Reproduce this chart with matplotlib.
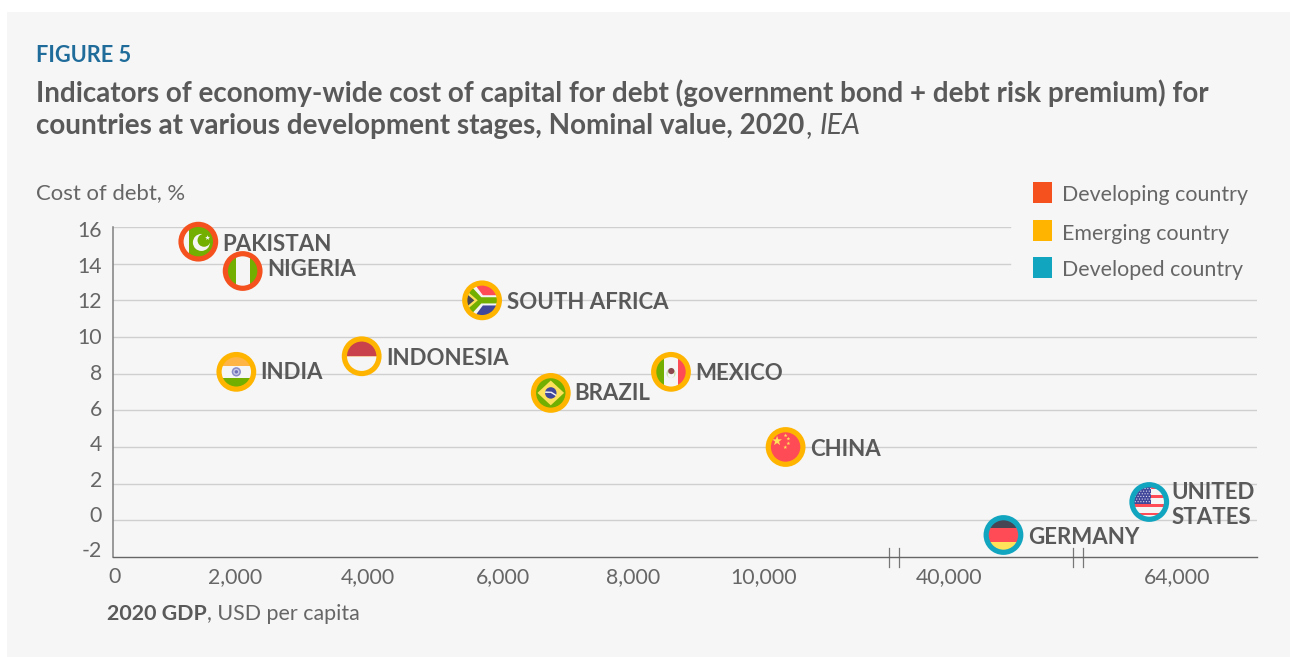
import matplotlib
matplotlib.use("Agg")
import matplotlib.pyplot as plt
import numpy as np
from matplotlib.patches import Circle, Rectangle, Polygon
from matplotlib.path import Path
from matplotlib.scale import FuncScale
from matplotlib.transforms import Affine2D, ScaledTranslation

# Country readings: GDP per capita (USD) and cost of debt (%)
countries = ["PAKISTAN", "NIGERIA", "SOUTH AFRICA", "INDIA", "INDONESIA",
             "BRAZIL", "MEXICO", "CHINA", "GERMANY", "UNITED\nSTATES"]
gdp_per_capita = [1390, 2115, 5690, 2020, 3905, 6735, 8580, 10335, 45700, 61100]
cost_of_debt = [15.2, 13.6, 12.0, 8.1, 8.95, 6.95, 8.1, 4.0, -0.8, 1.0]
stages = ["Developing country", "Developing country", "Emerging country",
          "Emerging country", "Emerging country", "Emerging country",
          "Emerging country", "Emerging country", "Developed country",
          "Developed country"]

stage_names = ["Developing country", "Emerging country", "Developed country"]
stage_colors = ["#F4511E", "#FFB400", "#12A5C0"]

y_ticks = [16, 14, 12, 10, 8, 6, 4, 2, 0, -2]
y_tick_labels = ["16", "14", "12", "10", "8", "6", "4", "2", "0", "-2"]
x_ticks = [0, 2000, 4000, 6000, 8000, 10000, 40000, 64000]
x_tick_labels = ["0", "2,000", "4,000", "6,000", "8,000", "10,000", "40,000", "64,000"]

# Label placement next to each marker, in pixels
label_offsets = {
    "PAKISTAN": (24, -3), "NIGERIA": (25, 2), "SOUTH AFRICA": (25, -2),
    "INDIA": (24, -1), "INDONESIA": (25, -2), "BRAZIL": (23, -1),
    "MEXICO": (24, -2), "CHINA": (25, -2), "GERMANY": (25, -3),
    "UNITED\nSTATES": (22, -3),
}
# The y labels sit on a slightly tighter spacing than the gridlines (pixels, + is up)
y_label_shift = {16: -2, 14: -1.5, 12: 0, 10: 0.5, 8: 1.3, 6: 2.7, 4: 3.7, 2: 4.6, 0: 6, -2: 8}

W, H = 1290, 657
TEXT = "#595959"
SOFT = "#666666"
FONT = ["Lato", "DejaVu Sans"]
plt.rcParams["font.family"] = FONT

fig = plt.figure(figsize=(W / 100, H / 100), dpi=100, facecolor="white")


def fx(px):
    return px / W


def fy(py):
    return 1 - py / H


fig.add_artist(Rectangle((fx(7), 0), 1 - fx(7), fy(12), transform=fig.transFigure,
                         facecolor="#F6F6F6", edgecolor="none", zorder=-5))

# Axes frame
left, right, top, bottom = 113, 1257, 227, 557
ax = fig.add_axes([fx(left), fy(bottom), fx(right - left), (bottom - top) / H])
ax.patch.set_visible(False)

# Broken horizontal axis: linear runs joined at the break marks
scale_values = np.array([-30, 0, 2000, 4000, 6000, 8000, 10000, 12000, 40000, 64000, 72500], float)
scale_pixels = np.array([113, 114.7, 235, 368, 503, 633, 764, 893, 949.5, 1176.7, 1257], float)


def to_axis(v):
    return np.interp(v, scale_values, scale_pixels)


def from_axis(p):
    return np.interp(p, scale_pixels, scale_values)


ax.set_xscale(FuncScale(ax, (to_axis, from_axis)))
ax.set_xlim(-30, 72500)
ax.set_ylim(-2, 16)

ax.set_xticks(x_ticks, x_tick_labels, fontsize=15.3, color=SOFT)
ax.set_yticks(y_ticks, y_tick_labels, fontsize=15.3, color=SOFT)
ax.minorticks_off()
ax.tick_params(axis="both", length=0)
ax.tick_params(axis="x", pad=7)
ax.tick_params(axis="y", pad=8)

for value, label in zip(y_ticks, ax.get_yticklabels()):
    label.set_transform(label.get_transform() + Affine2D().translate(0, y_label_shift[value]))

for side in ("top", "right"):
    ax.spines[side].set_visible(False)
ax.spines["left"].set_color("#808080")
ax.spines["bottom"].set_color("#666666")
ax.spines["left"].set_linewidth(1.1)
ax.spines["bottom"].set_linewidth(1.0)

# Gridlines; the top two stop short of the legend
for value in y_ticks:
    if value == -2:
        continue
    end = (1010 - left) / (right - left) if value >= 14 else 1
    ax.axhline(value, xmin=0, xmax=end, color="#CFCFCF", lw=1.0, zorder=1)

# Axis break marks
for px in (888.7, 898.7, 1073, 1083):
    xa = (px - left) / (right - left)
    ax.plot([xa, xa], [-9.7 / 330, 9 / 330], transform=ax.transAxes, color="#777777",
            lw=0.9, clip_on=False, zorder=2)

GREEN, RED, BLUE = "#73AF00", "#FF4B55", "#41479B"
YELLOW, DARK, WHITE = "#FFE15A", "#464655", "#F5F5F5"


def star(cx, cy, r):
    return Path.unit_regular_star(5, 0.4).vertices * r + np.array([cx, cy])


def band(x0, y0, x1, y1, color):
    return Rectangle((x0, y0), x1 - x0, y1 - y0, facecolor=color, edgecolor="none")


def dot(cx, cy, r, color):
    return Circle((cx, cy), r, facecolor=color, edgecolor="none")


def poly(points, color):
    return Polygon(points, closed=True, facecolor=color, edgecolor="none")


def pakistan():
    return [band(-1, -1, -0.6, 1, WHITE), band(-0.6, -1, 1, 1, GREEN),
            dot(0.2, -0.05, 0.55, WHITE), dot(0.37, 0.09, 0.42, GREEN),
            poly(star(0.6, 0.25, 0.17), WHITE)]


def nigeria():
    return [band(-1, -1, -0.46, 1, GREEN), band(-0.46, -1, 0.46, 1, WHITE),
            band(0.46, -1, 1, 1, GREEN)]


def south_africa():
    return [band(-1, 0, 1, 1, RED), band(-1, -1, 1, 0, BLUE),
            poly([(-1, 1), (-0.45, 1), (0.05, 0.33), (1, 0.33), (1, -0.33),
                  (0.05, -0.33), (-0.45, -1), (-1, -1)], WHITE),
            poly([(-1, 0.88), (-0.68, 0.88), (-0.05, 0.2), (1, 0.2), (1, -0.2),
                  (-0.05, -0.2), (-0.68, -0.88), (-1, -0.88)], GREEN),
            poly([(-1, 0.62), (-0.28, 0), (-1, -0.62)], YELLOW),
            poly([(-1, 0.42), (-0.5, 0), (-1, -0.42)], DARK)]


def india():
    return [band(-1, 0.4, 1, 1, "#FFB446"), band(-1, -0.42, 1, 0.4, WHITE),
            band(-1, -1, 1, -0.42, GREEN),
            dot(0, 0, 0.3, "#8A8CC8"), dot(0, 0, 0.2, "#C9CAE6"), dot(0, 0, 0.11, "#6E70B8")]


def indonesia():
    return [band(-1, 0, 1, 1, "#C8414B"), band(-1, -0.05, 1, 0, "#F2C9A0"),
            band(-1, -1, 1, -0.05, WHITE)]


def brazil():
    return [band(-1, -1, 1, 1, GREEN),
            poly([(-0.86, 0), (0, 0.8), (0.86, 0), (0, -0.8)], YELLOW),
            dot(0, 0, 0.37, BLUE),
            poly([(-0.35, 0.1), (0.05, 0.08), (0.36, -0.12), (0.32, -0.2),
                  (0.0, 0.0), (-0.37, 0.0)], WHITE)]


def mexico():
    return [band(-1, -1, -0.45, 1, GREEN), band(-0.45, -1, 0.45, 1, WHITE),
            band(0.45, -1, 1, 1, RED),
            dot(0, -0.1, 0.3, "#CFE3B0"), dot(0, -0.2, 0.2, WHITE),
            dot(0.02, 0.05, 0.2, "#8C4A4F")]


def china():
    parts = [band(-1, -1, 1, 1, RED), poly(star(-0.55, 0.39, 0.33), YELLOW)]
    for cx, cy in [(0, 0.74), (0.18, 0.53), (0.18, 0.23), (-0.02, -0.02)]:
        parts.append(poly(star(cx, cy, 0.13), YELLOW))
    return parts


def germany():
    return [band(-1, 0.42, 1, 1, DARK), band(-1, -0.42, 1, 0.42, RED),
            band(-1, -1, 1, -0.42, YELLOW)]


def united_states():
    parts = [band(-1, -1, 1, 1, WHITE)]
    edges = [1.0, 0.72, 0.44, 0.16, -0.12, -0.4, -0.68, -0.96]
    for i in range(0, len(edges) - 1, 2):
        parts.append(band(-1, edges[i + 1] + 0.1, 1, edges[i], RED))
    parts.append(band(-1, -0.12, 0.12, 1, BLUE))
    for row, sy in enumerate(np.arange(0.02, 0.95, 0.17)):
        for sx in np.arange(-0.9 + 0.09 * (row % 2), 0.1, 0.18):
            parts.append(dot(sx, sy, 0.04, "#E4E4F0"))
    return parts


flag_painters = [pakistan, nigeria, south_africa, india, indonesia,
                 brazil, mexico, china, germany, united_states]

FLAG_RADIUS = 15.5  # pixels

# Flags sit under the coloured rings, each clipped to its own disc
for x, y, paint in zip(gdp_per_capita, cost_of_debt, flag_painters):
    place = Affine2D().scale(FLAG_RADIUS) + ScaledTranslation(x, y, ax.transData)
    disc = Circle((0, 0), 1, transform=place, facecolor=WHITE, edgecolor="none", zorder=3)
    ax.add_artist(disc)
    for part in paint():
        part.set_transform(place)
        part.set_zorder(3.1)
        part.set_clip_path(disc)
        ax.add_artist(part)

ring_colors = [stage_colors[stage_names.index(s)] for s in stages]
ax.scatter(gdp_per_capita, cost_of_debt, s=(34.6 * 0.72) ** 2, facecolor="none",
           edgecolor=ring_colors, linewidth=5.2 * 0.72, zorder=4, clip_on=False)

# Country names
for name, x, y in zip(countries, gdp_per_capita, cost_of_debt):
    ax.annotate(name, xy=(x, y), xytext=label_offsets[name], textcoords="offset pixels",
                ha="left", va="center", fontsize=16, fontweight="bold", color=TEXT,
                linespacing=1.25, zorder=5, annotation_clip=False)

# Legend
legend_rows = [(182, 203), (220, 241), (257, 278)]
for name, color, (y0, y1) in zip(stage_names, stage_colors, legend_rows):
    fig.add_artist(Rectangle((fx(1033), fy(y1)), 19 / W, (y1 - y0) / H,
                             transform=fig.transFigure, facecolor=color, edgecolor="none"))
    fig.text(fx(1062.5), fy((y0 + y1) / 2 + 3), name, fontsize=15.4, color=SOFT, va="center", ha="left")

# Headings
fig.text(fx(36), fy(61.5), "FIGURE 5", fontsize=15.7, fontweight="bold", color="#1F6C9B",
         va="baseline", ha="left")
fig.text(fx(36), fy(102),
         "Indicators of economy-wide cost of capital for debt (government bond + debt risk premium) for",
         fontsize=20.03, fontweight="bold", color=TEXT, va="baseline", ha="left")

renderer = fig.canvas.get_renderer()
second = fig.text(fx(36), fy(134), "countries at various development stages, Nominal value, 2020",
                  fontsize=20.05, fontweight="bold", color=TEXT, va="baseline", ha="left")
x_end = second.get_window_extent(renderer).x1
fig.text(fx(x_end + 1), fy(134), ",", fontsize=20, color=TEXT, va="baseline", ha="left")
fig.text(fx(x_end + 15), fy(134), "IEA", fontsize=20.5, style="italic", color=TEXT,
         va="baseline", ha="left")

fig.text(fx(36), fy(199), "Cost of debt, %", fontsize=15.9, color=SOFT, va="baseline", ha="left")
bold_part = fig.text(fx(107), fy(620), "2020 GDP", fontsize=15.4, fontweight="bold", color=TEXT,
                     va="baseline", ha="left")
x_end = bold_part.get_window_extent(renderer).x1
fig.text(fx(x_end), fy(620), ", USD per capita", fontsize=15.4, color=SOFT, va="baseline", ha="left")

fig.savefig("out.png", dpi=100, facecolor="white")
